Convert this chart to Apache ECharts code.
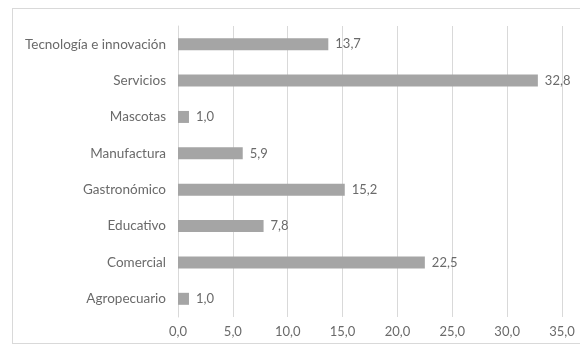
<!DOCTYPE html>
<html><head><meta charset="utf-8">
<script src="https://cdn.jsdelivr.net/npm/echarts@6/dist/echarts.min.js"></script>
<style>html,body{margin:0;padding:0;background:#fff}#c{width:580px;height:351px;position:relative}
#frame{position:absolute;left:12px;top:8px;width:570px;height:336px;border:1px solid #d9d9d9;box-sizing:border-box;pointer-events:none}</style>
</head><body><div id="c"></div><div id="frame"></div>
<script>
const categories = ["Agropecuario","Comercial","Educativo","Gastronómico","Manufactura","Mascotas","Servicios","Tecnología e innovación"];
const values = [1.0, 22.5, 7.8, 15.2, 5.9, 1.0, 32.8, 13.7];
const fmt = v => Number(v).toFixed(1).replace('.', ',');
const chart = echarts.init(document.getElementById('c'), null, {renderer:'canvas'});
chart.setOption({
  animation:false,
  textStyle:{fontFamily:'Lato'},
  grid:{left:178, right:18, top:26, bottom:34, containLabel:false},
  xAxis:{type:'value', min:0, max:35, interval:5,
    axisLine:{show:false}, axisTick:{show:false},
    splitLine:{lineStyle:{color:'#d9d9d9'}},
    axisLabel:{formatter:fmt, color:'#6a6a6a', fontSize:13, margin:8}},
  yAxis:{type:'category', data:categories,
    axisLine:{show:true, lineStyle:{color:'#d9d9d9'}}, axisTick:{show:false},
    axisLabel:{color:'#6a6a6a', fontSize:13.5, margin:12}},
  series:[{type:'bar', data:values, barWidth:12, itemStyle:{color:'#a5a5a5'},
    label:{show:true, position:'right', formatter:p=>fmt(p.value), color:'#6a6a6a', fontSize:13, distance:7}}]
});
</script></body></html>
